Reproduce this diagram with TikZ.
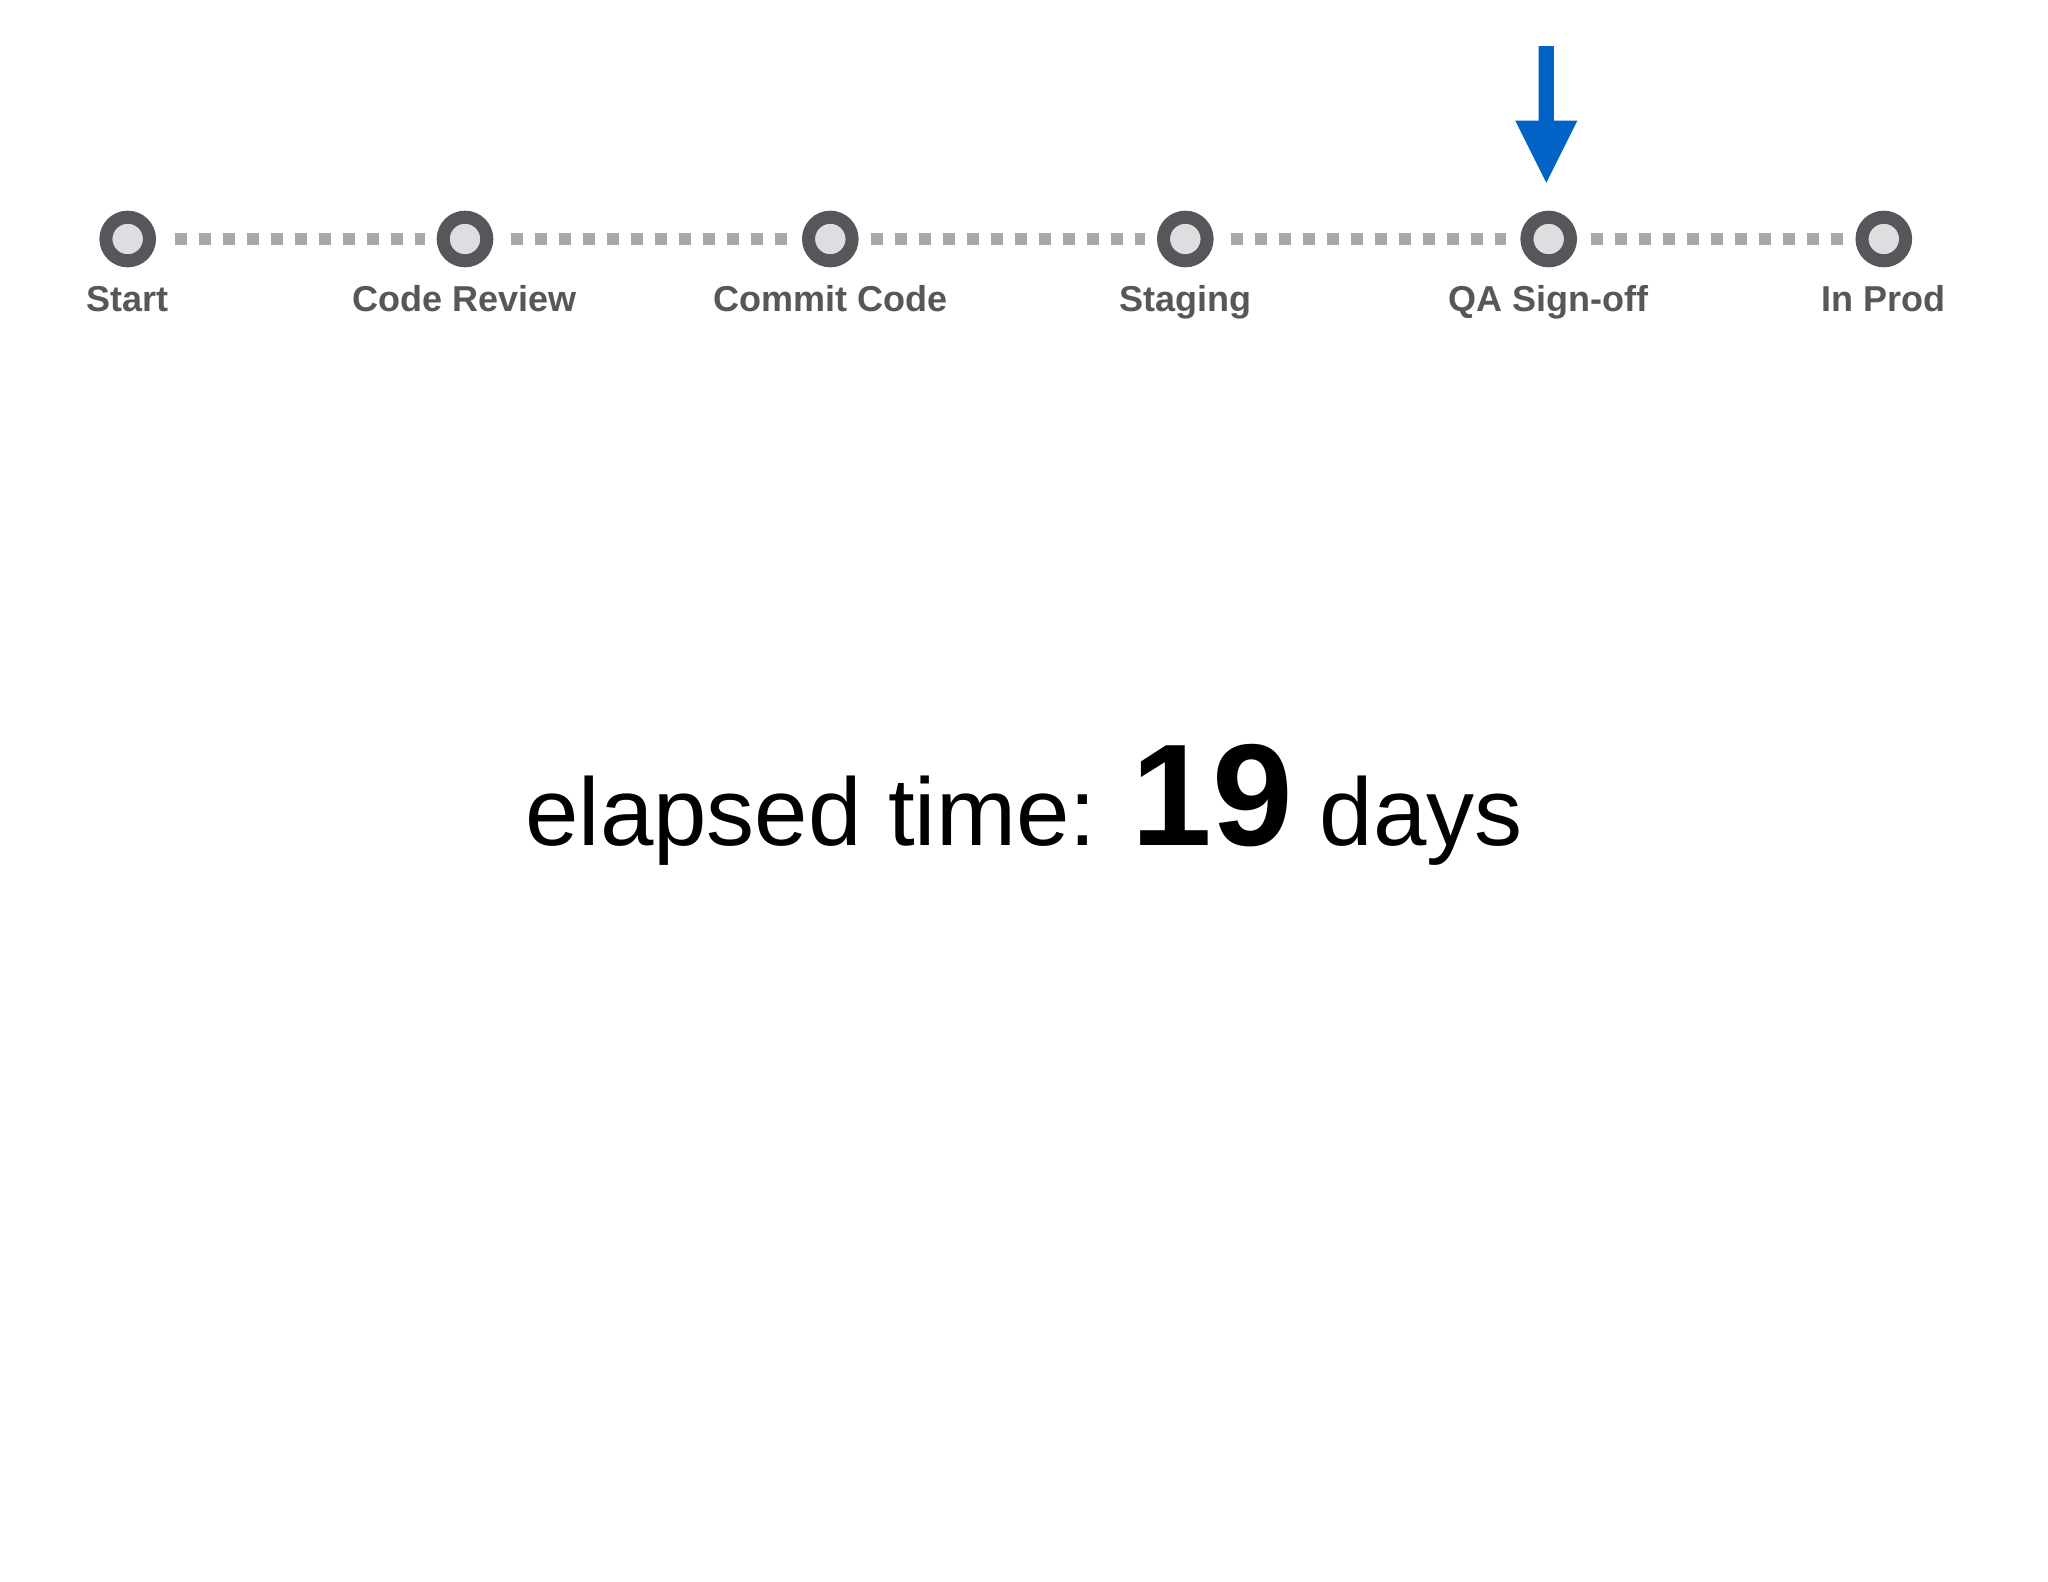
\documentclass[tikz,border=0pt]{standalone}
\usepackage{fontspec}
\setmainfont{Liberation Sans}
\definecolor{ringc}{HTML}{55575B}
\definecolor{innerc}{HTML}{DCDEE0}
\definecolor{dotc}{HTML}{A7A8A9}
\definecolor{labc}{HTML}{55575A}
\definecolor{arrc}{HTML}{0062C4}
\begin{document}
\begin{tikzpicture}[x=1pt,y=-1pt,
  stage/.style={circle,draw=ringc,fill=innerc,line width=13pt,minimum size=43.6pt,inner sep=0pt,outer sep=6.5pt},
  lbl/.style={anchor=base,text=labc,font=\fontsize{36}{42}\selectfont\bfseries,inner sep=0pt},
  dots/.style={draw=dotc,line width=12pt,line cap=butt,dash pattern=on 12pt off 12pt}]
\useasboundingbox[fill=white] (0,0) rectangle (2048,1582);
% stages
\node[stage] (s1) at (127.7,239) {};
\node[stage] (s2) at (465,239) {};
\node[stage] (s3) at (830.3,239) {};
\node[stage] (s4) at (1185.3,239) {};
\node[stage] (s5) at (1548.7,239) {};
\node[stage] (s6) at (1883.8,239) {};
% labels
\node[lbl] (l1) at (127.7,311.7) {Start};
\node[lbl] (l2) at (465,311.7) {Code Review};
\node[lbl] (l3) at (830.3,311.7) {Commit Code};
\node[lbl] (l4) at (1185.3,311.7) {Staging};
\node[lbl] (l5) at (1548.7,311.7) {QA Sign-off};
\node[lbl] (l6) at (1883.8,311.7) {In Prod};
% connectors
\draw[dots,shorten <=18.8pt,shorten >=12.1pt] (s1) -- (s2);
\draw[dots,shorten <=17.5pt,shorten >=15.4pt] (s2) -- (s3);
\draw[dots,shorten <=12.5pt,shorten >=12.1pt] (s3) -- (s4);
\draw[dots,shorten <=17.2pt,shorten >=14.5pt] (s4) -- (s5);
\draw[dots,shorten <=13.8pt,shorten >=12.9pt] (s5) -- (s6);
% pointer arrow
\fill[arrc] (1538.65,46) -- (1553.95,46) -- (1553.95,120.7) -- (1577.3,120.7)
  -- (1546.3,182.7) -- (1515.3,120.7) -- (1538.65,120.7) -- cycle;
% elapsed time
\node[anchor=base,inner sep=0pt,text=black] (et) at (1024,845)
  {\fontsize{96}{110}\selectfont elapsed time: {\fontsize{145}{160}\selectfont\bfseries 19} days};
\end{tikzpicture}
\end{document}
